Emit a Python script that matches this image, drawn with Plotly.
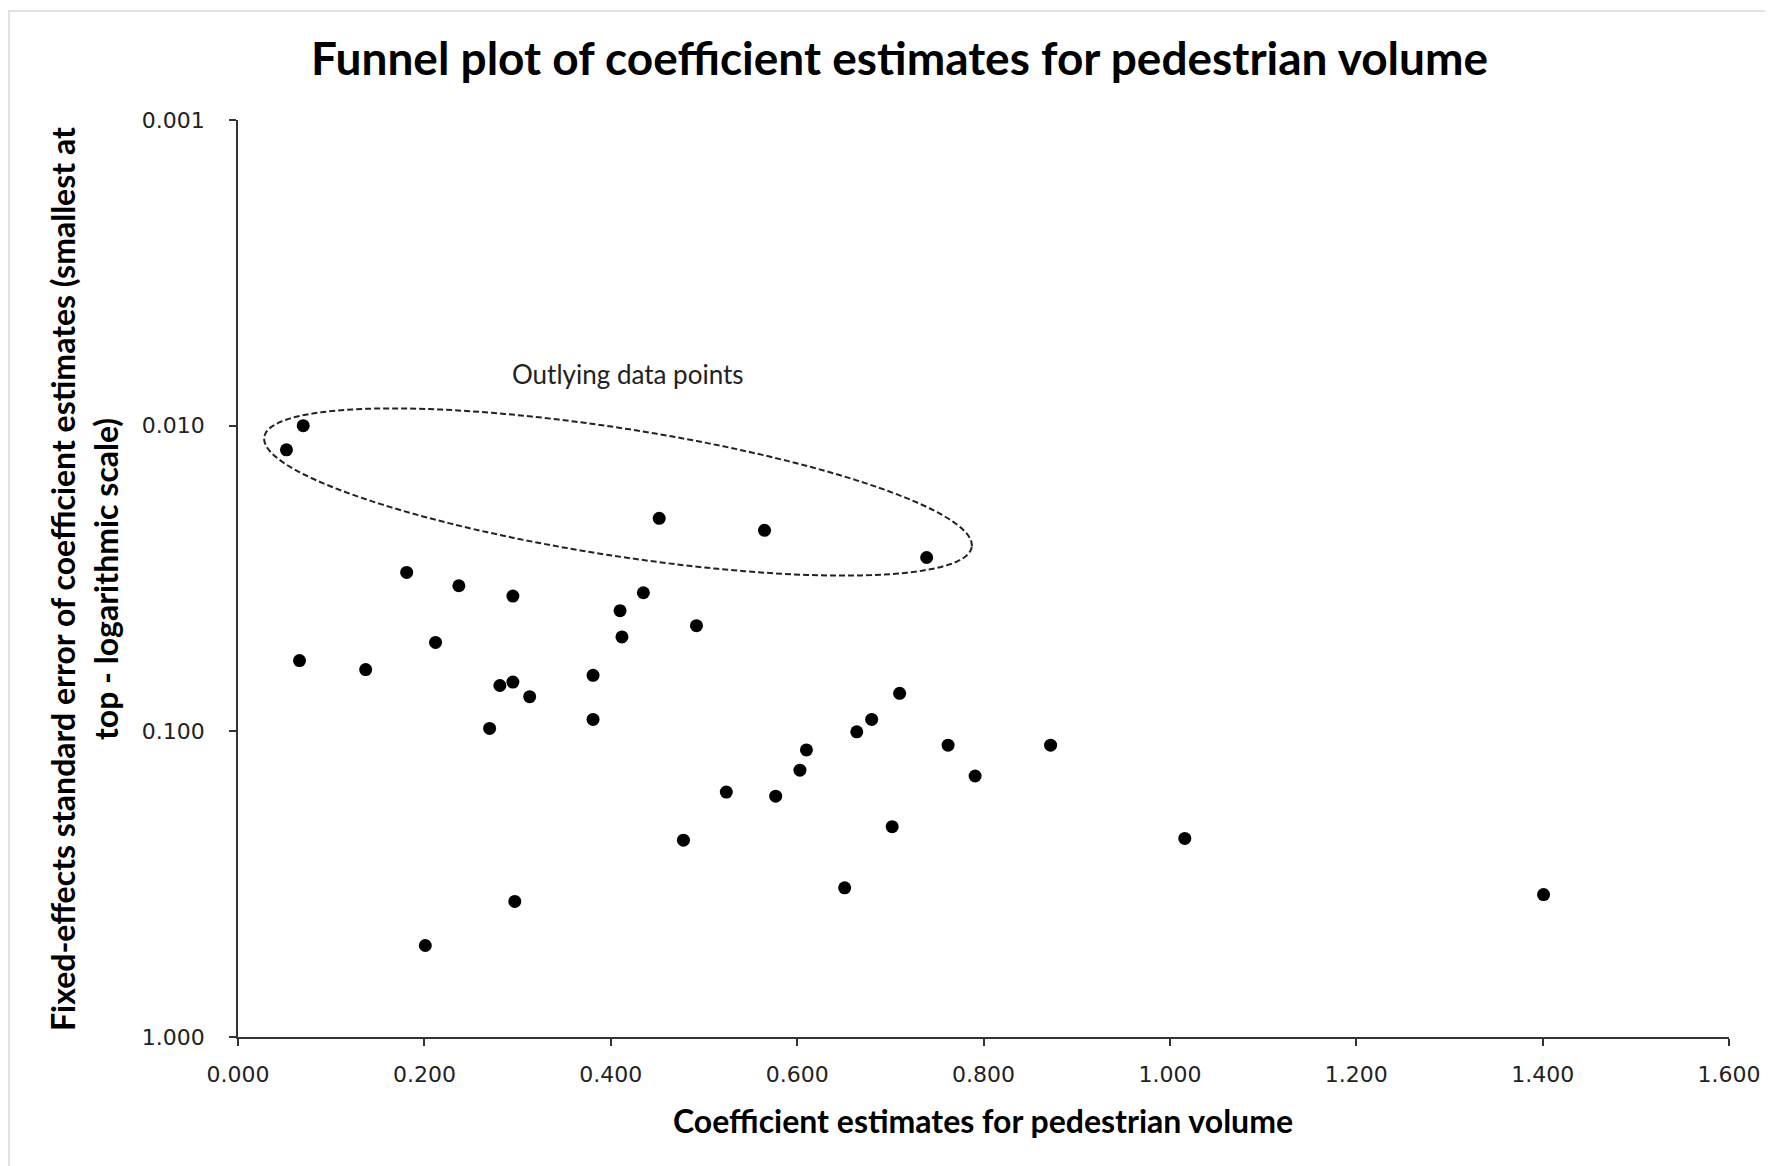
import numpy as np
import plotly.graph_objects as go

# Data
coef_estimates = [0.052, 0.070, 0.452, 0.565, 0.739, 0.181, 0.237, 0.295, 0.435, 0.410,
                  0.492, 0.412, 0.212, 0.066, 0.137, 0.381, 0.295, 0.281, 0.313, 0.710,
                  0.381, 0.680, 0.270, 0.664, 0.762, 0.872, 0.610, 0.603, 0.791, 0.524,
                  0.577, 0.702, 1.016, 0.478, 0.651, 1.401, 0.297, 0.201]
std_errors = [0.0120, 0.0100, 0.0201, 0.0220, 0.0270, 0.0302, 0.0334, 0.0361, 0.0352, 0.0403,
              0.0451, 0.0491, 0.0512, 0.0587, 0.0628, 0.0656, 0.0690, 0.0708, 0.0770, 0.0751,
              0.0914, 0.0914, 0.0978, 0.1004, 0.111, 0.111, 0.115, 0.134, 0.140, 0.158,
              0.163, 0.205, 0.224, 0.227, 0.325, 0.342, 0.360, 0.502]

x_tickvals = [0.0, 0.2, 0.4, 0.6, 0.8, 1.0, 1.2, 1.4, 1.6]
y_tickvals = [0.001, 0.01, 0.1, 1.0]
y_ticktext = ["0.001", "0.010", "0.100", "1.000"]

W, H = 1773, 1166
OFF = 8  # default page body margin
PX0, PX1, PY0, PY1 = 238, 1729, 120, 1037  # plot area in page pixels
L = PX0 - OFF
T = PY0 - OFF
PW, PH = PX1 - PX0, PY1 - PY0
R = W - L - PW
B = H - T - PH

def to_paper(px, py):
    return (px - PX0) / PW, (PY1 - py) / PH

fig = go.Figure()
fig.add_trace(go.Scatter(
    x=coef_estimates, y=std_errors, mode="markers",
    marker=dict(color="black", size=13),
    showlegend=False, hoverinfo="x+y"))

# dashed ellipse around the outlying points (annotation, in pixel space -> paper)
cx, cy, a, b, th = 618, 492, 358, 63.7, np.deg2rad(8.84)
t = np.linspace(0, 2 * np.pi, 161)
ex = cx + a * np.cos(t) * np.cos(th) - b * np.sin(t) * np.sin(th)
ey = cy + a * np.cos(t) * np.sin(th) + b * np.sin(t) * np.cos(th)
pts = [to_paper(px, py) for px, py in zip(ex, ey)]
path = "M " + " L ".join(f"{p[0]:.5f},{p[1]:.5f}" for p in pts) + " Z"

# outer border
bx0, by0 = to_paper(9, 11)
bx1, by1 = to_paper(W + 20, H + 20)

fig.update_layout(
    width=W, height=H,
    margin=dict(l=L, r=R, t=T, b=B),
    paper_bgcolor="white", plot_bgcolor="white",
    font=dict(family="DejaVu Sans", color="#222"),
    title=dict(text="<b>Funnel plot of coefficient estimates for pedestrian volume</b>",
               x=(899.6 - OFF) / W, xanchor="center", y=1 - (58.8 - OFF) / H, yanchor="middle",
               font=dict(family="Lato", size=46, color="black")),
    xaxis=dict(range=[0, 1.6], tickvals=x_tickvals, tickformat=".3f",
               showgrid=False, zeroline=False, showline=True, linecolor="#333", linewidth=1.5,
               ticks="outside", ticklen=7, tickcolor="#333", tickwidth=1.5,
               ticklabelstandoff=10,
               tickfont=dict(family="DejaVu Sans", size=22, color="#222")),
    yaxis=dict(type="log", range=[0, -3], tickvals=y_tickvals, ticktext=y_ticktext,
               showgrid=False, zeroline=False, showline=True, linecolor="#333", linewidth=1.5,
               ticks="outside", ticklen=7, tickcolor="#333", tickwidth=1.5,
               ticklabelstandoff=20,
               tickfont=dict(family="DejaVu Sans", size=22, color="#222")),
    shapes=[
        dict(type="path", xref="paper", yref="paper", path=path,
             line=dict(color="#222", width=2, dash="6px,3px")),
        dict(type="rect", xref="paper", yref="paper", x0=bx0, y0=by1, x1=bx1, y1=by0,
             line=dict(color="#d9d9d9", width=1.5), layer="below"),
    ],
    annotations=[
        dict(text="<b>Coefficient estimates for pedestrian volume</b>",
             xref="paper", yref="paper", x=to_paper(983, 0)[0], y=to_paper(0, 1120.6)[1],
             xanchor="center", yanchor="middle", showarrow=False,
             font=dict(family="Lato", size=32, color="black")),
        dict(text="<b>Fixed-effects standard error of coefficient estimates (smallest at</b>",
             xref="paper", yref="paper", x=to_paper(62, 0)[0], y=to_paper(0, 579)[1],
             xanchor="center", yanchor="middle", textangle=-90, showarrow=False,
             font=dict(family="Lato", size=32, color="black")),
        dict(text="<b>top - logarithmic scale)</b>",
             xref="paper", yref="paper", x=to_paper(105, 0)[0], y=to_paper(0, 579)[1],
             xanchor="center", yanchor="middle", textangle=-90, showarrow=False,
             font=dict(family="Lato", size=32, color="black")),
        dict(text="Outlying data points", xref="paper", yref="paper",
             x=to_paper(628, 0)[0], y=to_paper(0, 374)[1], xanchor="center", yanchor="middle",
             showarrow=False, font=dict(family="Lato", size=26, color="#222")),
    ],
)

fig.write_html("out.html")
